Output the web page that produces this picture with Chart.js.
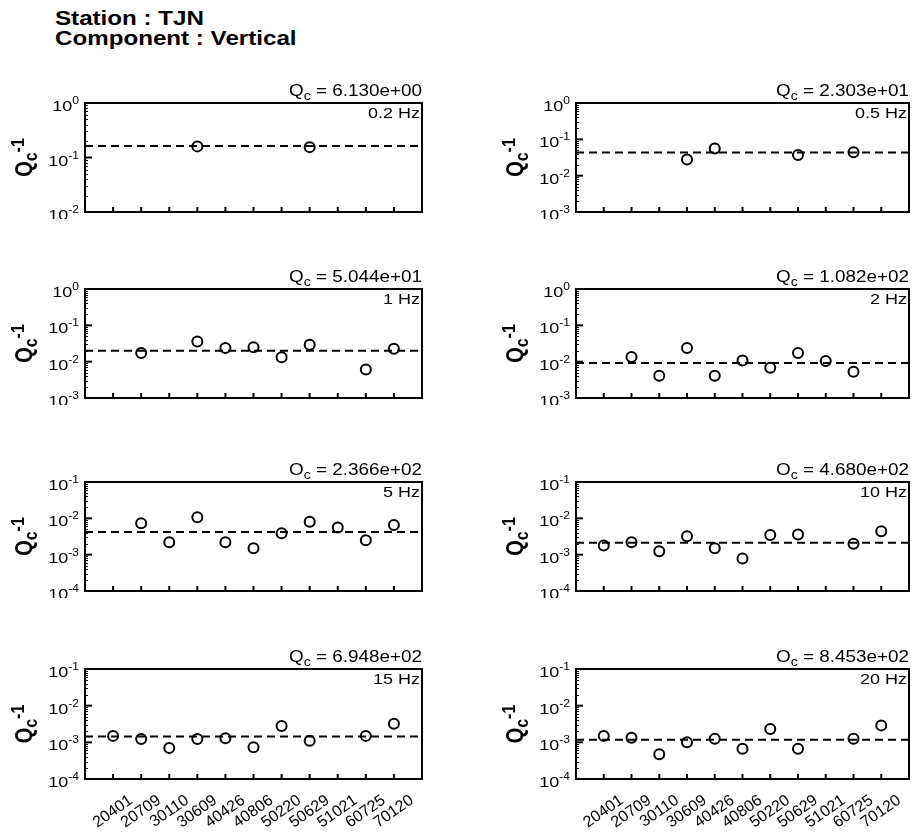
<!DOCTYPE html>
<html>
<head>
<meta charset="utf-8">
<script src="https://cdn.jsdelivr.net/npm/chart.js@4.4.0/dist/chart.umd.min.js"></script>
<style>
  body { margin: 0; background: #fff; width: 916px; height: 836px; position: relative; overflow: hidden; font-family: "Liberation Sans", Arial, sans-serif; }
  canvas { position: absolute; }
  #title { position: absolute; left: 55px; top: 8px; font-weight: bold; font-size: 21px; line-height: 20px;
           transform: scaleX(1.15); transform-origin: 0 0; white-space: nowrap; color: #000; }
</style>
</head>
<body>
<div id="title">Station : TJN<br>Component : Vertical</div>
<script>
// event ids on the x axis (placed at x = 1..11)
const events = ['20401', '20709', '30110', '30609', '40426', '40806', '50220', '50629', '51021', '60725', '70120'];
const freqs = ['0.2 Hz', '0.5 Hz', '1 Hz', '2 Hz', '5 Hz', '10 Hz', '15 Hz', '20 Hz'];
const qcValues = [6.130, 23.03, 50.44, 108.2, 236.6, 468.0, 694.8, 845.3];
const qcLabels = ['6.130e+00', '2.303e+01', '5.044e+01', '1.082e+02', '2.366e+02', '4.680e+02', '6.948e+02', '8.453e+02'];
const qcSymbols = ['Q', 'Q', 'Q', 'Q', 'O', 'O', 'Q', 'O'];
const yMin = [1e-2, 1e-3, 1e-3, 1e-3, 1e-4, 1e-4, 1e-4, 1e-4];
const yMax = [1, 1, 1, 1, 1e-1, 1e-1, 1e-1, 1e-1];

// Qc^-1 per event (null = no measurement)
const qInv02Hz = [null, null, null, 0.16, null, null, null, 0.155, null, null, null];
const qInv05Hz = [null, null, null, 0.028, 0.056, null, null, 0.037, null, 0.044, null];
const qInv1Hz  = [null, 0.0173, null, 0.0357, 0.0237, 0.0251, 0.0132, 0.029, null, 0.0061, 0.0226];
const qInv2Hz  = [null, 0.0134, 0.0041, 0.0238, 0.0041, 0.0108, 0.0068, 0.0173, 0.0104, 0.0053, null];
const qInv5Hz  = [null, 0.0073, 0.0022, 0.0107, 0.0022, 0.0015, 0.0039, 0.0081, 0.0056, 0.0025, 0.0066];
const qInv10Hz = [0.0018, 0.0022, 0.00125, 0.0032, 0.0015, 0.00079, 0.0035, 0.0036, null, 0.002, 0.0044];
const qInv15Hz = [0.0015, 0.00123, 0.0007, 0.00123, 0.0013, 0.00073, 0.0028, 0.0011, null, 0.0015, 0.0032];
const qInv20Hz = [0.0015, 0.00134, 0.00047, 0.001, 0.00126, 0.00067, 0.0023, 0.00067, null, 0.00126, 0.0029];
const series = [qInv02Hz, qInv05Hz, qInv1Hz, qInv2Hz, qInv5Hz, qInv10Hz, qInv15Hz, qInv20Hz];

const FONT = '"Liberation Sans", Arial, sans-serif';

// draw a row of text pieces (for sub/superscripts), stretched horizontally like the scan
function drawRuns(ctx, runs, x, y, align, sx, sy) {
  sy = sy || 1;
  let total = 0;
  runs.forEach(r => { ctx.font = r.font; r.w = ctx.measureText(r.t).width * sx; total += r.w; });
  let cx = align === 'right' ? x - total : align === 'center' ? x - total / 2 : x;
  runs.forEach(r => {
    ctx.save();
    ctx.font = r.font;
    ctx.textAlign = 'left';
    ctx.textBaseline = 'alphabetic';
    ctx.translate(cx, y + (r.dy || 0) * sy);
    ctx.scale(sx, sy);
    ctx.fillText(r.t, 0, 0);
    ctx.restore();
    cx += r.w;
  });
}

const deco = {
  id: 'deco',
  afterDraw(chart, args, o) {
    const ctx = chart.ctx, a = chart.chartArea, ys = chart.scales.y, xs = chart.scales.x;
    ctx.save();
    ctx.strokeStyle = '#000';
    ctx.fillStyle = '#000';

    const lo = Math.round(Math.log10(ys.min)), hi = Math.round(Math.log10(ys.max));
    // minor ticks
    ctx.lineWidth = 1;
    for (let d = lo; d < hi; d++) {
      for (let m = 2; m < 10; m++) {
        const py = Math.round(ys.getPixelForValue(m * Math.pow(10, d))) + 0.5;
        ctx.beginPath(); ctx.moveTo(a.left, py); ctx.lineTo(a.left + 3, py); ctx.stroke();
      }
    }
    // major ticks + labels
    ctx.lineWidth = 2;
    for (let d = lo; d <= hi; d++) {
      const py = ys.getPixelForValue(Math.pow(10, d));
      ctx.beginPath(); ctx.moveTo(a.left, py); ctx.lineTo(a.left + 7, py); ctx.stroke();
      drawRuns(ctx, [
        { t: '10', font: '15px ' + FONT },
        { t: String(d), font: '10px ' + FONT, dy: -7 }
      ], a.left - 6, py + 8, 'right', 1.2);
    }
    // x ticks (inward)
    events.forEach((e, i) => {
      const px = xs.getPixelForValue(i + 1);
      ctx.beginPath(); ctx.moveTo(px, a.bottom); ctx.lineTo(px, a.bottom - 5); ctx.stroke();
    });
    ctx.strokeRect(a.left, a.top, a.right - a.left, a.bottom - a.top);

    // Qc value above the box
    drawRuns(ctx, [
      { t: o.sym, font: '16px ' + FONT },
      { t: 'c', font: '12px ' + FONT, dy: 4 },
      { t: ' = ' + o.qc, font: '16px ' + FONT }
    ], a.right, a.top - 7, 'right', 1.18);
    // frequency inside the box
    drawRuns(ctx, [{ t: o.freq, font: '15px ' + FONT }], a.right - 2, a.top + 15, 'right', 1.2);

    // y title (rotated, so the scan's stretch goes along the glyph height)
    ctx.translate(a.left - 61, (a.top + a.bottom) / 2);
    ctx.rotate(-Math.PI / 2);
    drawRuns(ctx, [
      { t: 'Q', font: 'bold 20px ' + FONT },
      { t: 'c', font: 'bold 16px ' + FONT, dy: 4 },
      { t: '-1', font: 'bold 16px ' + FONT, dy: -7 }
    ], 0, 8, 'center', 1, 1.15);
    ctx.restore();
  }
};

// panel boxes: column canvas left/width, row plot tops
const colLeft = [0, 491], colWidth = [429, 425], colPadRight = [6, 5];
const rowPlotTop = [103, 289, 482, 669];
const PLOT_H = 110;

series.forEach((vals, k) => {
  const col = k % 2, row = Math.floor(k / 2), bottomRow = row === 3;
  const cv = document.createElement('canvas');
  const h = 40 + PLOT_H + (bottomRow ? 57 : 6);
  cv.width = colWidth[col];
  cv.height = h;
  cv.style.left = colLeft[col] + 'px';
  cv.style.top = (rowPlotTop[row] - 40) + 'px';
  document.body.appendChild(cv);

  const qInv = 1 / qcValues[k];
  const pts = [];
  vals.forEach((v, i) => { if (v !== null) pts.push({ x: i + 1, y: v }); });

  new Chart(cv, {
    type: 'scatter',
    data: {
      datasets: [
        {
          data: pts,
          pointRadius: 5,
          pointBorderWidth: 2,
          borderColor: '#000',
          backgroundColor: 'rgba(0,0,0,0)',
          showLine: false
        },
        {
          type: 'line',
          data: [{ x: 0, y: qInv }, { x: 12, y: qInv }],
          borderColor: '#000',
          borderWidth: 2,
          borderDash: [8, 5],
          pointRadius: 0,
          fill: false
        }
      ]
    },
    options: {
      responsive: false,
      animation: false,
      layout: { padding: { left: 85, right: colPadRight[col], top: 40, bottom: bottomRow ? 0 : 6 } },
      scales: {
        x: {
          type: 'linear', min: 0, max: 12,
          display: bottomRow,
          grid: { display: false, drawTicks: false },
          border: { display: false },
          afterBuildTicks: s => { s.ticks = events.map((e, i) => ({ value: i + 1 })); },
          afterFit: s => { s.height = bottomRow ? 57 : 0; },
          ticks: {
            autoSkip: false, minRotation: 35, maxRotation: 35, labelOffset: 18, padding: 12,
            color: '#000', font: { size: 16, family: FONT },
            callback: v => events[v - 1]
          }
        },
        y: { type: 'logarithmic', min: yMin[k], max: yMax[k], display: false }
      },
      plugins: {
        legend: { display: false },
        tooltip: { enabled: false },
        deco: { sym: qcSymbols[k], qc: qcLabels[k], freq: freqs[k] }
      }
    },
    plugins: [deco]
  });
});
</script>
</body>
</html>
